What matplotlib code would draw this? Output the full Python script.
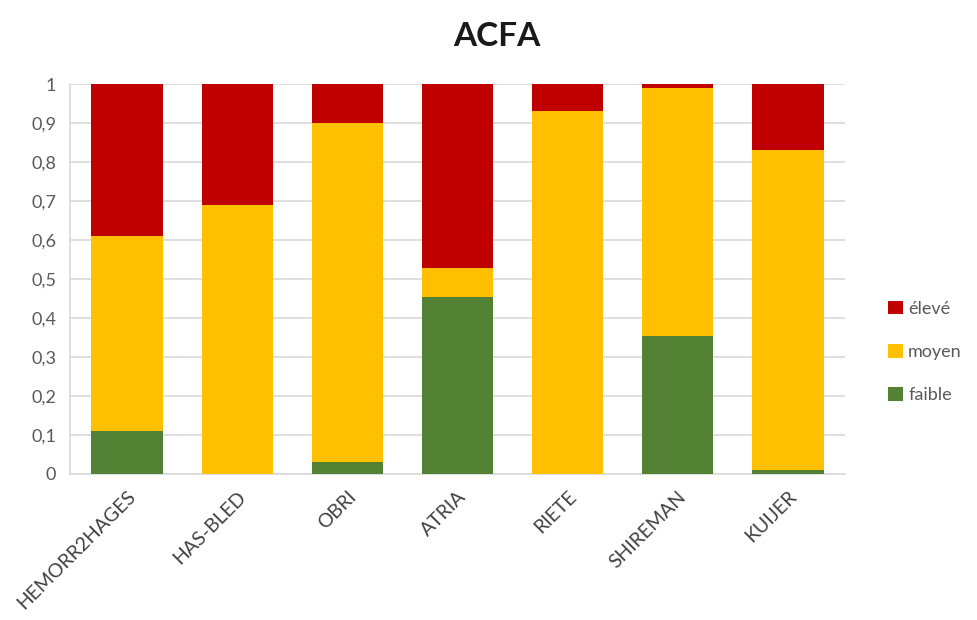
import numpy as np
import matplotlib
matplotlib.use('Agg')
import matplotlib.pyplot as plt

plt.rcParams['font.family'] = ['Lato', 'DejaVu Sans']

scores = ['HEMORR2HAGES', 'HAS-BLED', 'OBRI', 'ATRIA', 'RIETE', 'SHIREMAN', 'KUIJER']
faible = [0.11, 0.0, 0.03, 0.455, 0.0, 0.355, 0.01]
moyen = [0.50, 0.69, 0.87, 0.073, 0.93, 0.635, 0.82]
eleve = [0.39, 0.31, 0.10, 0.472, 0.07, 0.01, 0.17]
yticks = [0, 0.1, 0.2, 0.3, 0.4, 0.5, 0.6, 0.7, 0.8, 0.9, 1]
ylabels = ['0', '0,1', '0,2', '0,3', '0,4', '0,5', '0,6', '0,7', '0,8', '0,9', '1']

fig = plt.figure(figsize=(9.78, 6.2), dpi=100)
ax = fig.add_axes([0.0716, 0.2355, 0.7924, 0.629])

x = np.arange(len(scores))
w = 0.65
b1 = ax.bar(x, faible, w, color='#548235', label='faible', zorder=3)
b2 = ax.bar(x, moyen, w, bottom=faible, color='#FFC000', label='moyen', zorder=3)
bot = np.array(faible) + np.array(moyen)
b3 = ax.bar(x, eleve, w, bottom=bot, color='#C00000', label='élevé', zorder=3)

ax.set_ylim(0, 1)
ax.set_xlim(-0.52, 6.52)
ax.set_yticks(yticks)
ax.set_yticklabels(ylabels, fontsize=13, color='#595959')
ax.set_xticks(x)
ax.set_xticklabels(scores, rotation=45, ha='right', rotation_mode='anchor', fontsize=14, color='#404040')
ax.tick_params(axis='both', length=0, pad=10)
ax.yaxis.grid(True, color='#D9D9D9', linewidth=1.2, zorder=0)
for s in ['top', 'right']:
    ax.spines[s].set_visible(False)
ax.spines['left'].set_color('#D9D9D9')
ax.spines['bottom'].set_color('#D9D9D9')
ax.spines['left'].set_linewidth(1.2)
ax.spines['bottom'].set_linewidth(1.2)

fig.suptitle('ACFA', x=0.508, y=0.965, fontsize=24, fontweight='bold', color='#1a1a1a')

leg = ax.legend(handles=[b3, b2, b1], loc='center left', bbox_to_anchor=(1.035, 0.313),
                frameon=False, fontsize=13, handlelength=0.8, handleheight=0.8,
                handletextpad=0.3, labelspacing=1.5)
for t in leg.get_texts():
    t.set_color('#595959')

fig.savefig('out.png', dpi=100)
